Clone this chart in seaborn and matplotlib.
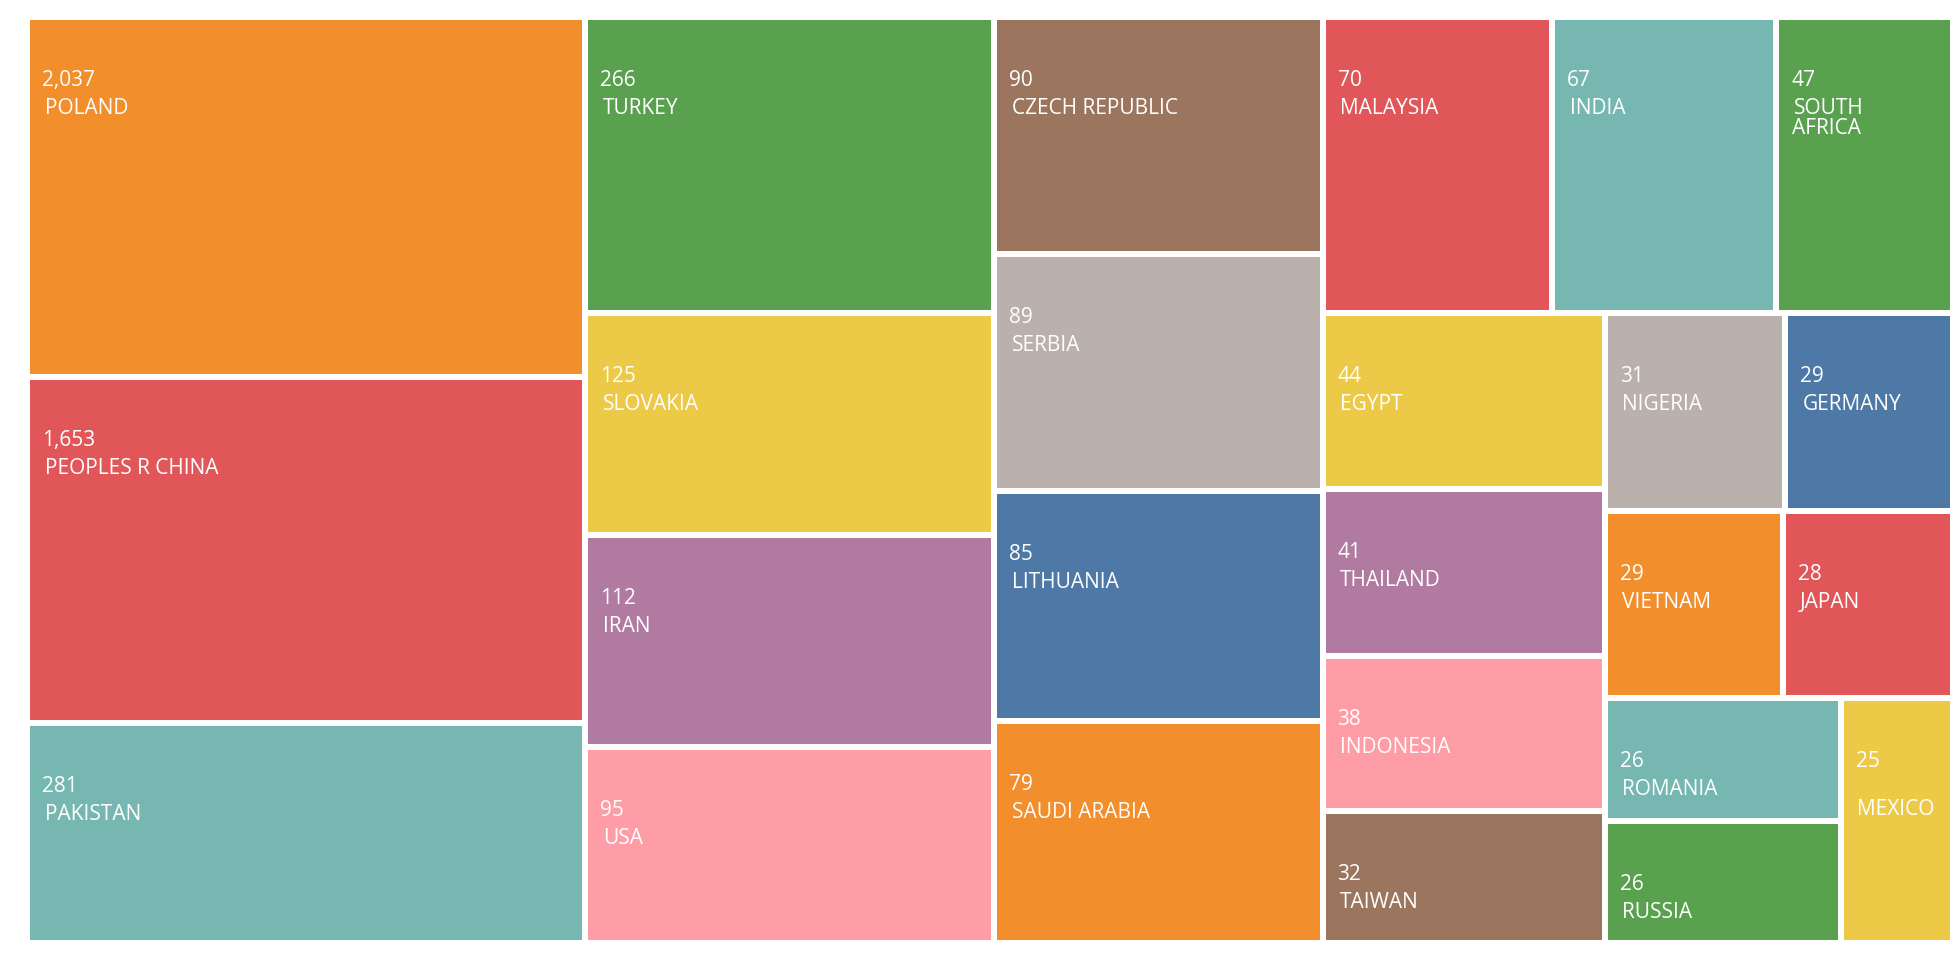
import numpy as np
import matplotlib
matplotlib.use("Agg")
import matplotlib.pyplot as plt
import seaborn as sns

# Publications by country (count shown on each tile)
countries = ["POLAND", "PEOPLES R CHINA", "PAKISTAN", "TURKEY", "SLOVAKIA", "IRAN", "USA",
             "CZECH REPUBLIC", "SERBIA", "LITHUANIA", "SAUDI ARABIA", "MALAYSIA", "INDIA",
             "SOUTH AFRICA", "EGYPT", "THAILAND", "INDONESIA", "TAIWAN", "NIGERIA", "GERMANY",
             "VIETNAM", "JAPAN", "ROMANIA", "RUSSIA", "MEXICO"]
documents = [2037, 1653, 281, 266, 125, 112, 95, 90, 89, 85, 79, 70, 67,
             47, 44, 41, 38, 32, 31, 29, 29, 28, 26, 26, 25]

# Tableau 10 colours, cycled in order of tile size
tableau10 = ["#4E79A7", "#F28E2B", "#E15759", "#76B7B2", "#59A14F",
             "#EDC948", "#B07AA1", "#FF9DA7", "#9C755F", "#BAB0AC"]

sns.set_theme(style="white")
plt.rcParams["font.family"] = ["Open Sans", "DejaVu Sans"]
palette = sns.color_palette(tableau10)

# Tile area follows the log of the count
LOG_FLOOR = 12.5
sizes = np.log(np.asarray(documents, dtype=float) / LOG_FLOOR)


def squarify(sizes, x0, y0, x1, y1, min_aspect=0.975):
    """Lay rows along the shorter side; a row is closed once its first
    (largest) tile stops being longer than it is thick."""
    total_area = (x1 - x0) * (y1 - y0)
    areas = np.asarray(sizes) * total_area / np.sum(sizes)
    n = len(areas)
    rects = []
    i = 0
    while i < n:
        w, h = x1 - x0, y1 - y0
        vertical = h <= w
        side = h if vertical else w
        j = i + 1
        while j < n:
            thick = areas[i:j].sum() / side
            if (areas[i] / thick) / thick < min_aspect:
                break
            j += 1
        thick = areas[i:j].sum() / side
        pos = y0 if vertical else x0
        for k in range(i, j):
            length = areas[k] / thick
            if vertical:
                rects.append((x0, pos, thick, length))
            else:
                rects.append((pos, y0, length, thick))
            pos += length
        if vertical:
            x0 += thick
        else:
            y0 += thick
        i = j
    return rects


fig = plt.figure(figsize=(19.6, 9.6), dpi=100)
ax = fig.add_axes([0, 0, 1, 1])
ax.set_xlim(0, 1960)
ax.set_ylim(960, 0)
ax.axis("off")

rects = squarify(sizes, 27, 17, 1953, 943)
gap = 3.0
renderer = fig.canvas.get_renderer()
font_kw = dict(fontsize=15, color="white", family=["Open Sans", "DejaVu Sans"])


def text_width(s):
    t = ax.text(0, 0, s, **font_kw)
    wpx = t.get_window_extent(renderer).width
    t.remove()
    return wpx


def wrap_name(name, avail):
    # the name line starts with a leading space; wrap greedily at spaces
    lines = []
    cur = ""
    for word in name.split(" "):
        trial = cur + " " + word
        if text_width(trial) <= avail:
            cur = trial
        else:
            lines.append(cur)
            cur = word
    lines.append(cur)
    return lines


for idx, ((x, y, w, h), name, val) in enumerate(zip(rects, countries, documents)):
    left, top = x + gap, y + gap
    cw, ch = w - 2 * gap, h - 2 * gap
    ax.bar(left, ch, width=cw, bottom=top, align="edge",
           color=palette[(idx + 1) % 10], linewidth=0)

    ax.text(left + 12, top + 66, f"{val:,}", ha="left", va="baseline", **font_kw)
    for ln, line in enumerate(wrap_name(name, cw - 40)):
        indent = 2.5 if line.startswith(" ") else 0.5
        ax.text(left + 12 + indent, top + 94 + 19.5 * ln, line.strip(),
                ha="left", va="baseline", **font_kw)

fig.savefig("out.png", dpi=100, facecolor="white")
